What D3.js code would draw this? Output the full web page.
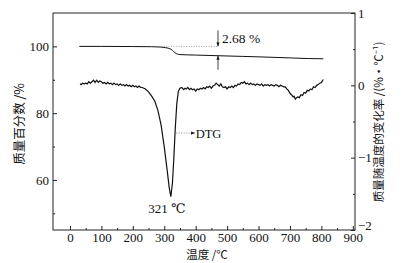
<!DOCTYPE html>
<html>
<head>
<meta charset="utf-8">
<script src="https://cdn.jsdelivr.net/npm/d3@7/dist/d3.min.js"></script>
<style>
  body { margin: 0; background: #fff; }
  svg text { font-family: "Liberation Serif", "DejaVu Serif", serif; fill: #111; }
  svg text.cjk { font-family: "Noto Sans CJK SC", sans-serif; }
</style>
</head>
<body>
<div id="chart"></div>
<script>
// temperature (°C) vs mass percent
const tgTemp = [30, 100, 200, 260, 290, 305, 318, 326, 334, 342, 350, 400, 471, 550, 605, 700, 760, 806];
const tgMass = [100.0, 100.0, 99.95, 99.9, 99.8, 99.6, 99.3, 98.8, 98.1, 97.7, 97.55, 97.4, 97.2, 97.0, 96.85, 96.55, 96.35, 96.3];

// temperature (°C) vs DTG (%/°C)
const dtgTemp = [32, 36, 40, 45, 50, 55, 60, 65, 70, 75, 80, 85, 90, 95, 100, 105, 110, 115, 120, 125, 130, 135, 140, 145, 150, 155, 160, 165, 170, 175, 180, 185, 190, 195, 200, 205, 210, 215, 220, 225, 230, 240, 250, 260, 270, 280, 290, 300, 310, 316, 321, 326, 330, 335, 340, 345, 350, 356, 362, 366, 370, 375, 380, 385, 390, 395, 400, 405, 410, 415, 420, 425, 430, 435, 440, 445, 450, 455, 460, 465, 470, 475, 480, 485, 490, 495, 500, 505, 510, 515, 520, 525, 530, 535, 540, 545, 550, 555, 560, 565, 570, 575, 580, 585, 590, 595, 600, 605, 610, 615, 620, 625, 630, 635, 640, 645, 650, 655, 660, 665, 670, 675, 680, 685, 690, 695, 700, 705, 710, 713, 717, 721, 725, 730, 735, 740, 745, 750, 755, 760, 765, 770, 775, 780, 785, 790, 795, 800, 806];
const dtgVal = [0.02, 0.01, 0.03, 0.02, 0.03, 0.02, 0.05, 0.03, 0.05, 0.07, 0.04, 0.07, 0.04, 0.06, 0.05, 0.03, 0.04, 0.02, 0.04, 0.02, 0.03, 0.01, 0.03, 0.01, 0.02, 0.0, 0.02, 0.0, 0.01, -0.01, 0.01, -0.01, 0.0, -0.02, 0.0, -0.02, -0.01, -0.03, -0.01, -0.03, -0.03, -0.05, -0.09, -0.15, -0.22, -0.35, -0.55, -0.85, -1.2, -1.42, -1.54, -1.35, -1.05, -0.6, -0.25, -0.08, -0.04, -0.03, -0.06, -0.04, -0.05, -0.03, -0.06, -0.04, -0.06, -0.05, -0.08, -0.05, -0.06, -0.04, -0.05, -0.03, -0.05, -0.02, -0.03, -0.01, -0.04, -0.01, 0.0, 0.03, 0.01, -0.01, 0.02, -0.02, -0.03, -0.02, -0.05, -0.02, -0.03, -0.01, -0.03, 0.0, -0.01, 0.02, 0.01, 0.04, 0.03, 0.05, 0.02, 0.03, 0.01, 0.03, 0.01, 0.02, 0.0, 0.02, 0.01, 0.0, 0.02, -0.01, 0.01, 0.0, 0.01, -0.01, 0.01, 0.0, -0.01, 0.01, 0.0, -0.02, 0.0, -0.01, -0.02, -0.02, -0.05, -0.07, -0.11, -0.13, -0.16, -0.15, -0.19, -0.17, -0.16, -0.17, -0.13, -0.14, -0.1, -0.11, -0.07, -0.08, -0.05, -0.06, -0.02, -0.03, 0.0, 0.01, 0.03, 0.04, 0.08];

const xTicks = [0, 100, 200, 300, 400, 500, 600, 700, 800, 900];
const xMinor = [50, 150, 250, 350, 450, 550, 650, 750, 850];
const yLeftTicks = [60, 80, 100];
const yLeftMinor = [50, 70, 90];
const yRightTicks = [1, 0, -1, -2];
const yRightMinor = [0.5, -0.5, -1.5];

const width = 409, height = 263;
const margin = { top: 13, right: 54, bottom: 33, left: 53 };
const w = width - margin.left - margin.right;
const h = height - margin.top - margin.bottom;

const svg = d3.select('#chart').append('svg')
  .attr('width', width)
  .attr('height', height);

const g = svg.append('g').attr('transform', `translate(${margin.left},${margin.top})`);

const x = d3.scaleLinear().domain([-54, 907]).range([0, w]);
const yL = d3.scaleLinear().domain([45, 110]).range([h, 0]);
const yR = d3.scaleLinear().domain([-2, 1]).range([h, 0]);

// frame
g.append('rect').attr('width', w).attr('height', h)
  .attr('fill', 'none').attr('stroke', '#222').attr('stroke-width', 1);

const styleAxis = sel => {
  sel.select('.domain').remove();
  sel.selectAll('line').attr('stroke', '#222');
  sel.selectAll('text').attr('font-size', 13).attr('fill', '#111');
};

g.append('g').attr('transform', `translate(0,${h})`)
  .call(d3.axisBottom(x).tickValues(xTicks).tickSize(-4).tickPadding(3))
  .call(styleAxis);
g.append('g').attr('transform', `translate(0,${h})`)
  .call(d3.axisBottom(x).tickValues(xMinor).tickSize(-2).tickFormat(''))
  .call(styleAxis);

g.append('g')
  .call(d3.axisLeft(yL).tickValues(yLeftTicks).tickSize(-4).tickPadding(4))
  .call(styleAxis);
g.append('g')
  .call(d3.axisLeft(yL).tickValues(yLeftMinor).tickSize(-2).tickFormat(''))
  .call(styleAxis);

const rightAxis = g.append('g').attr('transform', `translate(${w},0)`)
  .call(d3.axisRight(yR).tickValues(yRightTicks).tickSize(-4).tickPadding(3).tickFormat(d3.format('d')))
  .call(styleAxis);
// bottom label sits a little higher, clear of the 900 label
rightAxis.selectAll('.tick').filter(d => d === -2).select('text').attr('dy', '-0.05em');
g.append('g').attr('transform', `translate(${w},0)`)
  .call(d3.axisRight(yR).tickValues(yRightMinor).tickSize(-2).tickFormat(''))
  .call(styleAxis);

// curves
const tg = tgTemp.map((t, i) => [t, tgMass[i]]);
const dtg = dtgTemp.map((t, i) => [t, dtgVal[i]]);

g.append('path').datum(tg)
  .attr('fill', 'none').attr('stroke', '#111').attr('stroke-width', 1)
  .attr('d', d3.line().x(d => x(d[0])).y(d => yL(d[1])).curve(d3.curveMonotoneX));

g.append('path').datum(dtg)
  .attr('fill', 'none').attr('stroke', '#111').attr('stroke-width', 1.2)
  .attr('d', d3.line().x(d => x(d[0])).y(d => yR(d[1])));

// mass loss annotation
g.append('line')
  .attr('x1', x(290)).attr('x2', x(471))
  .attr('y1', yL(100)).attr('y2', yL(100))
  .attr('stroke', '#888').attr('stroke-width', 0.8).attr('stroke-dasharray', '1,1.5');

svg.append('defs').append('marker')
  .attr('id', 'ah').attr('viewBox', '0 0 10 10').attr('refX', 10).attr('refY', 5)
  .attr('markerWidth', 5).attr('markerHeight', 5).attr('orient', 'auto')
  .append('path').attr('d', 'M0,1L10,5L0,9z').attr('fill', '#111');

g.append('line')
  .attr('x1', x(471)).attr('x2', x(471))
  .attr('y1', yL(100) - 16).attr('y2', yL(100))
  .attr('stroke', '#111').attr('stroke-width', 0.8).attr('marker-end', 'url(#ah)');
g.append('line')
  .attr('x1', x(471)).attr('x2', x(471))
  .attr('y1', yL(97.2) + 14).attr('y2', yL(97.2))
  .attr('stroke', '#111').attr('stroke-width', 0.8).attr('marker-end', 'url(#ah)');
g.append('text')
  .attr('x', x(471) + 4).attr('y', yL(100) - 3)
  .attr('font-size', 13.5).text('2.68 %');

// DTG label
g.append('line')
  .attr('x1', x(338)).attr('x2', x(398))
  .attr('y1', yR(-0.66)).attr('y2', yR(-0.66))
  .attr('stroke', '#666').attr('stroke-width', 0.8).attr('stroke-dasharray', '1,1.5')
  .attr('marker-end', 'url(#ah)');
g.append('text')
  .attr('x', x(400)).attr('y', yR(-0.66) + 4.5)
  .attr('font-size', 12.5).text('DTG');

// peak label
g.append('text')
  .attr('x', x(321) - 4).attr('y', yR(-1.54) + 16)
  .attr('text-anchor', 'middle').attr('font-size', 13).text('321 ℃');

// axis titles
svg.append('text').attr('class', 'cjk')
  .attr('x', 207).attr('y', 259).attr('text-anchor', 'middle')
  .attr('font-size', 11.5).text('温度 /℃');

svg.append('text').attr('class', 'cjk')
  .attr('transform', 'translate(24,124) rotate(-90)')
  .attr('text-anchor', 'middle').attr('font-size', 12.5).text('质量百分数 /%');

svg.append('text').attr('class', 'cjk')
  .attr('transform', 'translate(383,122) rotate(-90)')
  .attr('text-anchor', 'middle').attr('font-size', 11.5)
  .text('质量随温度的变化率 /(%·℃⁻¹)');
</script>
</body>
</html>
